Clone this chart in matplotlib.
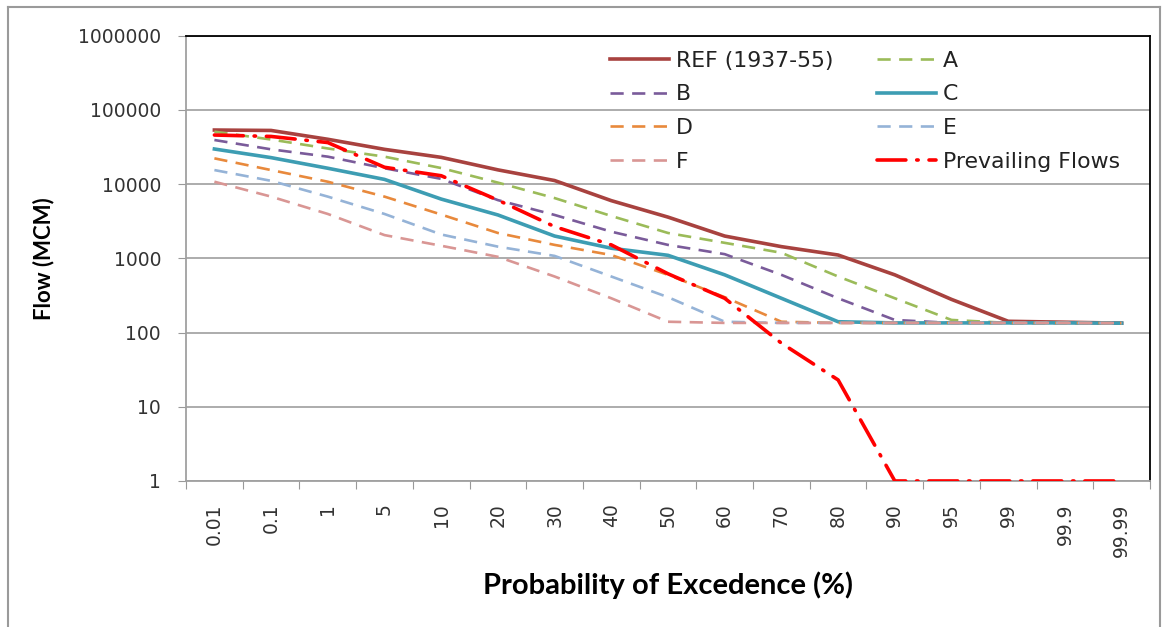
import matplotlib.pyplot as plt
import numpy as np
from matplotlib.lines import Line2D

# exceedance categories and flow series (MCM)
categories = ['0.01', '0.1', '1', '5', '10', '20', '30', '40', '50',
              '60', '70', '80', '90', '95', '99', '99.9', '99.99']
ref = [53700, 53000, 40300, 29500, 23000, 15600, 11200, 6000, 3600,
       2000, 1440, 1110, 600, 280, 142, 138, 134]
a = [51000, 40000, 30300, 23500, 16500, 10500, 6500, 3730, 2200,
     1620, 1190, 570, 290, 148, 135, 135, 134]
b = [39400, 29500, 23500, 16400, 11800, 6100, 3850, 2290, 1520,
     1140, 600, 290, 148, 135, 135, 135, 134]
c = [29800, 22800, 16400, 11600, 6300, 3850, 2000, 1370, 1100,
     600, 290, 140, 135, 135, 135, 135, 134]
d = [22300, 15500, 10800, 6800, 3900, 2200, 1520, 1110, 600,
     300, 140, 135, 135, 135, 135, 135, 134]
e = [15500, 11100, 6800, 3970, 2100, 1440, 1080, 570, 300,
     140, 135, 135, 135, 135, 135, 135, 134]
f = [10800, 6800, 3970, 2060, 1480, 1050, 570, 290, 140,
     135, 135, 135, 135, 135, 135, 135, 134]
prevailing = [46000, 44000, 36400, 16900, 13000, 6100, 2680, 1520, 620,
              290, 72, 23, 1, 1, 1, 1, 1]

fig = plt.figure(figsize=(11.65, 6.27), dpi=100)
ax = fig.add_axes([0.1597, 0.2329, 0.8274, 0.71])
x = np.arange(len(categories))

dash = (0, (5, 3.2))
ax.plot(x, ref, color='#A8423F', lw=2.6, label='REF (1937-55)', zorder=3)
ax.plot(x, a, color='#9BBB59', lw=1.9, ls=dash, label='A', zorder=3)
ax.plot(x, b, color='#7A5B9A', lw=1.9, ls=dash, label='B', zorder=3)
ax.plot(x, c, color='#3D9DB3', lw=2.6, label='C', zorder=3)
ax.plot(x, d, color='#E8893C', lw=1.9, ls=dash, label='D', zorder=3)
ax.plot(x, e, color='#95B3D7', lw=1.9, ls=dash, label='E', zorder=3)
ax.plot(x, f, color='#D99694', lw=1.9, ls=dash, label='F', zorder=3)
ax.plot(x, prevailing, color='#FF0000', lw=2.6, ls=(0, (8, 3, 0.4, 3)),
        dash_capstyle='round', label='Prevailing Flows', zorder=4)

ax.set_yscale('log')
ax.set_ylim(1, 1000000)
ax.set_xlim(-0.5, len(categories) - 0.5)
yt = [1, 10, 100, 1000, 10000, 100000, 1000000]
ax.set_yticks(yt)
ax.set_yticklabels([str(v) for v in yt], fontsize=13.5, color='#333333')
ax.yaxis.set_minor_locator(plt.NullLocator())
ax.tick_params(axis='y', length=6, color='#999999', pad=12)
ax.grid(axis='y', color='#A6A6A6', lw=1.3)

# category ticks sit between the columns, labels in the middle
ax.set_xticks(np.arange(-0.5, len(categories)))
ax.set_xticklabels([])
ax.tick_params(axis='x', which='major', length=6, color='#999999')
ax.set_xticks(x, minor=True)
ax.set_xticklabels(categories, minor=True, rotation=90, fontsize=13.5,
                   color='#333333')
ax.tick_params(axis='x', which='minor', length=0, pad=16)

for s in ['left', 'bottom']:
    ax.spines[s].set_color('#A0A0A0')
    ax.spines[s].set_linewidth(1.3)
for s in ['top', 'right']:
    ax.spines[s].set_color('black')
    ax.spines[s].set_linewidth(1.3)

ax.set_ylabel('Flow (MCM)', fontsize=16, fontweight='bold',
              family='Lato', labelpad=17)
ax.set_xlabel('Probability of Excedence (%)', fontsize=21,
              fontweight='bold', family='Lato', labelpad=11)

h, l = ax.get_legend_handles_labels()
order = [0, 2, 4, 6, 1, 3, 5, 7]
ax.legend([h[i] for i in order], [l[i] for i in order], ncol=2,
          loc='upper left', bbox_to_anchor=(0.4305, 0.986), borderaxespad=0,
          borderpad=0.4, frameon=False, fontsize=15.8, handlelength=2.7,
          labelspacing=0.62, columnspacing=2.0, handletextpad=0.3,
          labelcolor='#222222')

# outer chart border
fig.add_artist(Line2D([8 / 1165, 8 / 1165], [0, 1 - 7 / 627],
                      color='#9A9A9A', lw=1.5))
fig.add_artist(Line2D([8 / 1165, 1160 / 1165], [1 - 7 / 627, 1 - 7 / 627],
                      color='#9A9A9A', lw=1.5))
fig.add_artist(Line2D([1160 / 1165, 1160 / 1165], [0, 1 - 7 / 627],
                      color='#9A9A9A', lw=1.5))

fig.savefig('out.png', dpi=100)
